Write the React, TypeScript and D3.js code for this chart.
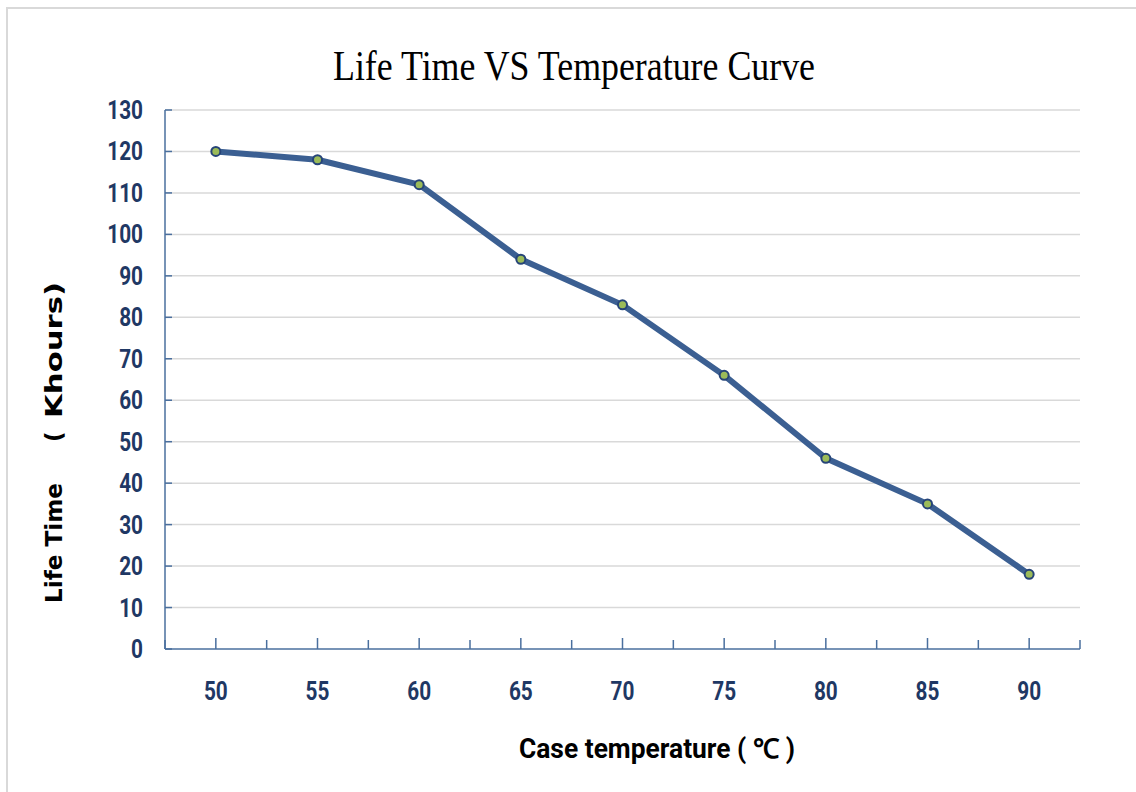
import * as d3 from 'd3'

const temps = ['50', '55', '60', '65', '70', '75', '80', '85', '90']
const lifeKh = [120, 118, 112, 94, 83, 66, 46, 35, 18]
const yTicks = [0, 10, 20, 30, 40, 50, 60, 70, 80, 90, 100, 110, 120, 130]

const W = 1136
const H = 792
const plot = { left: 165, right: 1080, top: 110, bottom: 649 }
const navy = '#1f3864'
const axisBlue = '#4a6f9e'
const narrow = 'Roboto, "Liberation Sans", sans-serif'
const wide = '"DejaVu Sans", Verdana, sans-serif'

export default function App() {
  const x = d3.scaleBand<string>().domain(temps).range([plot.left, plot.right])
  const y = d3.scaleLinear().domain([0, 130]).range([plot.bottom, plot.top])
  const bw = x.bandwidth()

  const pts = temps.map((t, i) => ({ t, v: lifeKh[i] }))
  const line = d3
    .line<{ t: string; v: number }>()
    .x((d) => (x(d.t) ?? 0) + bw / 2)
    .y((d) => y(d.v))

  // ticks at every half band along the x axis
  const xTickPos = d3.range(temps.length * 2 + 1).map((i) => plot.left + (i * bw) / 2)

  return (
    <svg
      width={W}
      height={H}
      style={{ position: 'absolute', left: 0, top: 0, background: 'white' }}
    >
      <rect x={7} y={8} width={W + 10} height={H + 10} fill="white" stroke="#d9d9d9" strokeWidth={2} />

      <text
        x={574}
        y={80}
        textAnchor="middle"
        fontFamily='"Liberation Serif", "DejaVu Serif", serif'
        fontSize={43}
        textLength={482}
        lengthAdjust="spacingAndGlyphs"
        fill="#000"
      >
        Life Time VS Temperature Curve
      </text>

      {/* grid */}
      {yTicks.slice(1).map((t) => (
        <line key={t} x1={plot.left} x2={plot.right} y1={y(t)} y2={y(t)} stroke="#d9d9d9" strokeWidth={1.5} />
      ))}

      {/* y axis */}
      <line x1={plot.left} x2={plot.left} y1={plot.top} y2={plot.bottom} stroke={axisBlue} strokeWidth={1.5} />
      {yTicks.map((t) => (
        <g key={t}>
          <line x1={plot.left} x2={plot.left + 7} y1={y(t)} y2={y(t)} stroke={axisBlue} strokeWidth={1.5} />
          <text
            transform={`translate(143,${y(t) + 9}) scale(0.8,1)`}
            textAnchor="end"
            fontFamily={narrow}
            fontWeight="bold"
            fontSize={26}
            fill={navy}
          >
            {t}
          </text>
        </g>
      ))}

      {/* x axis */}
      <line x1={plot.left} x2={plot.right} y1={plot.bottom} y2={plot.bottom} stroke={axisBlue} strokeWidth={1.5} />
      {xTickPos.map((p, i) => (
        <line key={i} x1={p} x2={p} y1={plot.bottom} y2={plot.bottom - (i % 2 ? 11 : 9)} stroke={axisBlue} strokeWidth={1.5} />
      ))}
      {temps.map((t) => (
        <text
          key={t}
          transform={`translate(${(x(t) ?? 0) + bw / 2},700) scale(0.8,1)`}
          textAnchor="middle"
          fontFamily={narrow}
          fontWeight="bold"
          fontSize={26}
          fill={navy}
        >
          {t}
        </text>
      ))}

      {/* series */}
      <path d={line(pts) ?? ''} fill="none" stroke="#3b5f92" strokeWidth={6} strokeLinejoin="round" />
      {pts.map((d) => (
        <circle
          key={d.t}
          cx={(x(d.t) ?? 0) + bw / 2}
          cy={y(d.v)}
          r={4.5}
          fill="#9bbb59"
          stroke="#264478"
          strokeWidth={2}
        />
      ))}

      {/* axis titles */}
      <text
        x={657}
        y={758}
        textAnchor="middle"
        fontFamily={narrow}
        fontWeight="bold"
        fontSize={27}
        textLength={276}
        lengthAdjust="spacingAndGlyphs"
        fill="#000"
      >
        Case temperature ( ℃ )
      </text>
      <g transform="translate(62,0) rotate(-90)" fontFamily={wide} fontWeight="bold" fontSize={23} fill="#000">
        <text x={-603} y={0} textLength={120} lengthAdjust="spacingAndGlyphs">
          Life Time
        </text>
        <text x={-442} y={0}>
          (
        </text>
        <text x={-418} y={0} textLength={136} lengthAdjust="spacingAndGlyphs">
          Khours)
        </text>
      </g>
    </svg>
  )
}
